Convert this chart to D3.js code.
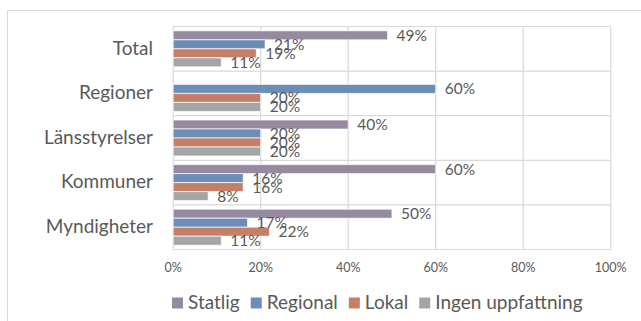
<!DOCTYPE html>
<html>
<head>
<meta charset="utf-8">
<script src="https://cdn.jsdelivr.net/npm/d3@7"></script>
<style>
  html, body { margin: 0; padding: 0; background: #fff; }
  svg { display: block; }
  text { font-family: Lato, "Open Sans", sans-serif; fill: #595959; }
</style>
</head>
<body>
<svg id="chart" width="641" height="321"></svg>
<script>
const categories = ["Total", "Regioner", "Länsstyrelser", "Kommuner", "Myndigheter"];
const seriesNames = ["Statlig", "Regional", "Lokal", "Ingen uppfattning"];
const statlig  = [49, 0, 40, 60, 50];
const regional = [21, 60, 20, 16, 17];
const lokal    = [19, 20, 20, 16, 22];
const ingen    = [11, 20, 20, 8, 11];
const seriesColors = ["#968AA0", "#6C8DB5", "#C47F69", "#A5A5A5"];
const tickValues = [0, 20, 40, 60, 80, 100];

const seriesValues = [statlig, regional, lokal, ingen];
const svg = d3.select("#chart");

// outer chart border
svg.append("rect")
  .attr("x", 7.5).attr("y", 10.5)
  .attr("width", 700).attr("height", 400)
  .attr("fill", "none").attr("stroke", "#D9D9D9").attr("stroke-width", 1);

const plot = { left: 173.2, right: 610.7, top: 26.5, bottom: 249.5 };

const x = d3.scaleLinear().domain([0, 100]).range([plot.left, plot.right]);
const y = d3.scaleBand().domain(categories).range([plot.top, plot.bottom]);
const ySub = d3.scaleBand().domain(seriesNames).range([0, y.bandwidth()])
  .paddingInner(0).paddingOuter(0.48);

// gridlines
svg.append("g").selectAll("line").data(tickValues).join("line")
  .attr("x1", d => x(d)).attr("x2", d => x(d))
  .attr("y1", plot.top).attr("y2", plot.bottom)
  .attr("stroke", "#D9D9D9").attr("stroke-width", 1.2);

// horizontal category separators + plot border
const hLines = categories.map(c => y(c)).concat([plot.bottom]);
svg.append("g").selectAll("line").data(hLines).join("line")
  .attr("x1", plot.left).attr("x2", plot.right)
  .attr("y1", d => d).attr("y2", d => d)
  .attr("stroke", "#D9D9D9").attr("stroke-width", 1.2);

// bars
const rows = [];
categories.forEach((c, ci) => {
  seriesNames.forEach((s, si) => {
    rows.push({ cat: c, series: s, si, value: seriesValues[si][ci] });
  });
});

svg.append("g").selectAll("rect").data(rows.filter(d => d.value > 0)).join("rect")
  .attr("x", x(0))
  .attr("y", d => y(d.cat) + ySub(d.series))
  .attr("width", d => x(d.value) - x(0))
  .attr("height", ySub.bandwidth())
  .attr("fill", d => seriesColors[d.si])
  .attr("stroke", "#ffffff").attr("stroke-opacity", 0.7).attr("stroke-width", 1);

// data labels
svg.append("g").selectAll("text").data(rows.filter(d => d.value > 0)).join("text")
  .attr("x", d => x(d.value) + 9)
  .attr("y", d => y(d.cat) + ySub(d.series) + ySub.bandwidth() / 2 + 1.5)
  .attr("dominant-baseline", "middle")
  .attr("font-size", 15.5)
  .text(d => d.value + "%");

// category labels
svg.append("g").selectAll("text").data(categories).join("text")
  .attr("x", 153)
  .attr("y", d => y(d) + y.bandwidth() / 2 + 1)
  .attr("text-anchor", "end")
  .attr("dominant-baseline", "middle")
  .attr("font-size", 19)
  .text(d => d);

// x tick labels
svg.append("g").selectAll("text").data(tickValues).join("text")
  .attr("x", d => x(d))
  .attr("y", 269)
  .attr("text-anchor", "middle")
  .attr("dominant-baseline", "middle")
  .attr("font-size", 12.5)
  .text(d => d + "%");

// legend
const legend = svg.append("g");
let lx = 172;
const ly = 303;
seriesNames.forEach((s, i) => {
  legend.append("rect")
    .attr("x", lx).attr("y", ly - 5.5)
    .attr("width", 11).attr("height", 11)
    .attr("fill", seriesColors[i]);
  const t = legend.append("text")
    .attr("x", lx + 16).attr("y", ly + 1)
    .attr("dominant-baseline", "middle")
    .attr("font-size", 19)
    .text(s);
  lx += 16 + t.node().getComputedTextLength() + 11;
});
</script>
</body>
</html>
